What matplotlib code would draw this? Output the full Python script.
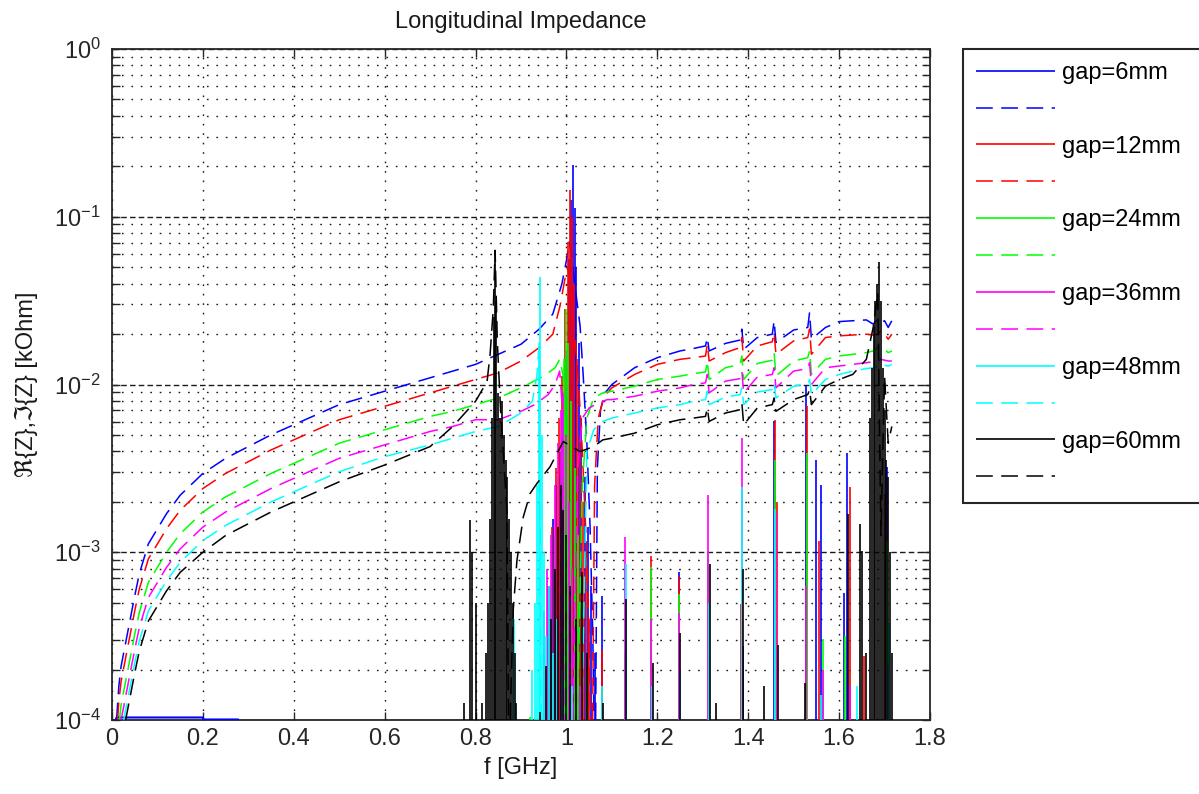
import numpy as np
import matplotlib
matplotlib.use('Agg')
import matplotlib.pyplot as plt
from matplotlib.ticker import FixedLocator, FixedFormatter, NullFormatter

plt.rcParams['font.family'] = ['Liberation Sans', 'DejaVu Sans']
plt.rcParams['axes.unicode_minus'] = False

# ---------------- data (log10 of |Z| in kOhm) ----------------
GAPS = [6, 12, 24, 36, 48, 60]
COLORS = ['#0000ff', '#ff0000', '#00ff00', '#ff00ff', '#00ffff', '#000000']
X_TICKS = [0, 0.2, 0.4, 0.6, 0.8, 1.0, 1.2, 1.4, 1.6, 1.8]
X_TICK_LABELS = ['0', '0.2', '0.4', '0.6', '0.8', '1', '1.2', '1.4', '1.6', '1.8']

# imaginary part, shared low-frequency grid
F_LOW = [0.005, 0.01, 0.015, 0.02, 0.03, 0.04, 0.05, 0.06, 0.08, 0.10, 0.12,
         0.15, 0.20, 0.25, 0.30, 0.35, 0.40, 0.50, 0.60, 0.70, 0.75, 0.80]
IM_LOW_6 = [-4.6, -4.00, -3.80, -3.68, -3.54, -3.40, -3.26, -3.13, -2.95, -2.86, -2.77,
            -2.66, -2.53, -2.44, -2.37, -2.30, -2.24, -2.12, -2.04, -1.96, -1.92, -1.88]
IM_LOW_12 = [-4.7, -4.09, -3.89, -3.77, -3.63, -3.49, -3.35, -3.22, -3.04, -2.95, -2.86,
             -2.75, -2.62, -2.53, -2.46, -2.39, -2.33, -2.21, -2.13, -2.05, -2.01, -1.97]
IM_LOW_24 = [-4.8, -4.23, -4.03, -3.91, -3.77, -3.63, -3.49, -3.36, -3.18, -3.09, -3.00,
             -2.89, -2.76, -2.67, -2.60, -2.53, -2.47, -2.35, -2.27, -2.19, -2.16, -2.12]
IM_LOW_36 = [-4.9, -4.32, -4.12, -4.00, -3.86, -3.72, -3.58, -3.45, -3.27, -3.18, -3.09,
             -2.98, -2.85, -2.76, -2.69, -2.62, -2.56, -2.44, -2.36, -2.28, -2.25, -2.21]
IM_LOW_48 = [-5.0, -4.40, -4.20, -4.08, -3.94, -3.80, -3.66, -3.53, -3.35, -3.26, -3.17,
             -3.06, -2.93, -2.84, -2.77, -2.70, -2.64, -2.52, -2.43, -2.36, -2.32, -2.28]
IM_LOW_60 = [-5.1, -4.46, -4.26, -4.14, -4.00, -3.86, -3.72, -3.59, -3.41, -3.32, -3.23,
             -3.12, -3.00, -2.90, -2.83, -2.76, -2.70, -2.58, -2.48, -2.37, -2.25, -2.10]

# imaginary part around the main resonance
IM_MID_F_6 = [0.85, 0.90, 0.94, 0.97, 0.99, 1.0, 1.006, 1.012, 1.02, 1.03, 1.037, 1.045,
              1.052, 1.058, 1.063, 1.068, 1.075, 1.085]
IM_MID_V_6 = [-1.82, -1.76, -1.67, -1.58, -1.40, -1.26, -1.15, -1.25, -1.44, -1.65, -1.95,
              -2.35, -2.85, -3.5, -4.5, -2.5, -2.15, -2.05]
IM_MID_F_12 = [0.85, 0.90, 0.94, 0.97, 0.986, 0.996, 1.003, 1.01, 1.018, 1.027, 1.035,
               1.043, 1.05, 1.056, 1.062, 1.07, 1.08, 1.09]
IM_MID_V_12 = [-1.93, -1.86, -1.78, -1.70, -1.53, -1.38, -1.30, -1.45, -1.70, -2.0, -2.4,
               -2.9, -3.5, -4.5, -2.6, -2.2, -2.1, -2.05]
IM_MID_F_24 = [0.85, 0.90, 0.95, 0.975, 0.985, 0.993, 1.0, 1.006, 1.02, 1.035, 1.045,
               1.06, 1.08]
IM_MID_V_24 = [-2.08, -2.02, -1.95, -1.90, -1.85, -1.95, -2.6, -4.5, -4.5, -2.6, -2.2,
               -2.08, -2.05]
IM_MID_F_36 = [0.85, 0.90, 0.93, 0.96, 0.975, 0.985, 0.99, 0.996, 1.01, 1.025, 1.035,
               1.05, 1.07, 1.09]
IM_MID_V_36 = [-2.21, -2.16, -2.12, -2.06, -2.0, -1.92, -2.1, -4.5, -4.5, -2.5, -2.2,
               -2.14, -2.11, -2.09]
IM_MID_F_48 = [0.85, 0.90, 0.925, 0.935, 0.94, 0.945, 0.95, 1.03, 1.045, 1.06, 1.08]
IM_MID_V_48 = [-2.25, -2.17, -2.10, -1.95, -1.75, -4.5, -4.5, -4.5, -2.4, -2.27, -2.22]
IM_MID_F_60 = [0.815, 0.825, 0.832, 0.839, 0.843, 0.848, 0.855, 0.862, 0.869, 0.874,
               0.877, 0.883, 0.891, 0.905, 0.92, 0.935, 0.964, 0.993, 1.03, 1.06, 1.08]
IM_MID_V_60 = [-2.03, -1.99, -1.82, -1.55, -1.20, -1.75, -2.15, -2.45, -2.75, -4.5,
               -3.9, -3.34, -3.05, -2.79, -2.65, -2.59, -2.49, -2.34, -2.40, -2.37, -2.33]

# imaginary part, shared high-frequency grid
F_HIGH = [1.10, 1.15, 1.20, 1.25, 1.28, 1.306, 1.31, 1.314, 1.35, 1.382, 1.386, 1.39,
          1.42, 1.453, 1.457, 1.461, 1.50, 1.531, 1.535, 1.539, 1.57, 1.60, 1.63, 1.66,
          1.675, 1.685, 1.692, 1.70, 1.708, 1.716]
IM_HIGH_6 = [-2.00, -1.90, -1.84, -1.80, -1.785, -1.77, -1.72, -1.80, -1.755, -1.735,
             -1.67, -1.79, -1.72, -1.70, -1.62, -1.75, -1.675, -1.66, -1.57, -1.73,
             -1.66, -1.625, -1.62, -1.615, -1.64, -1.61, -1.63, -1.62, -1.66, -1.62]
IM_HIGH_12 = [-2.02, -1.94, -1.88, -1.85, -1.84, -1.83, -1.76, -1.86, -1.81, -1.78,
              -1.72, -1.86, -1.77, -1.745, -1.69, -1.82, -1.74, -1.72, -1.67, -1.82,
              -1.72, -1.71, -1.705, -1.70, -1.705, -1.70, -1.68, -1.70, -1.73, -1.70]
IM_HIGH_24 = [-2.04, -2.01, -1.97, -1.95, -1.935, -1.925, -1.86, -1.97, -1.90, -1.88,
              -1.83, -1.97, -1.875, -1.855, -1.81, -1.95, -1.86, -1.84, -1.80, -1.94,
              -1.85, -1.83, -1.82, -1.81, -1.80, -1.78, -1.77, -1.79, -1.81, -1.80]
IM_HIGH_36 = [-2.09, -2.07, -2.04, -2.02, -2.0, -1.99, -1.94, -2.05, -1.98, -1.965,
              -1.92, -2.05, -1.955, -1.94, -1.90, -2.02, -1.92, -1.905, -1.87, -2.0,
              -1.90, -1.89, -1.88, -1.87, -1.865, -1.86, -1.85, -1.855, -1.86, -1.86]
IM_HIGH_48 = [-2.20, -2.17, -2.14, -2.12, -2.10, -2.09, -2.04, -2.12, -2.075, -2.06,
              -2.02, -2.12, -2.045, -2.03, -1.99, -2.08, -2.01, -1.995, -1.97, -2.06,
              -1.97, -1.94, -1.92, -1.905, -1.90, -1.89, -1.88, -1.885, -1.89, -1.88]
IM_HIGH_60 = [-2.32, -2.29, -2.24, -2.21, -2.20, -2.19, -2.14, -2.22, -2.17, -2.15,
              -2.11, -2.24, -2.14, -2.12, -2.08, -2.16, -2.09, -2.06, -2.03, -2.12,
              -2.01, -1.97, -1.94, -1.85, -1.66, -1.45, -2.9, -1.95, -2.35, -2.25]

# real part: resonance spikes (frequency, log10 peak)
RE_F_6 = [0.955, 0.962, 0.97, 0.978, 0.985, 0.992, 1.0, 1.006, 1.011, 1.014, 1.018, 1.022,
          1.027, 1.033, 1.04, 1.047, 1.054, 1.062, 1.078, 1.247, 1.388, 1.456, 1.46, 1.527,
          1.55, 1.56, 1.61, 1.617, 1.70, 1.705]
RE_V_6 = [-3.8, -3.2, -2.8, -2.6, -2.4, -2.15, -1.8, -1.25, -0.9, -0.69, -0.95, -1.3,
          -1.75, -2.2, -2.55, -2.85, -3.2, -3.6, -3.26, -3.12, -3.56, -2.22, -2.6, -2.01,
          -2.45, -2.6, -3.24, -2.41, -3.0, -2.49]
RE_F_12 = [0.95, 0.96, 0.968, 0.976, 0.984, 0.99, 0.997, 1.003, 1.008, 1.012, 1.017, 1.023,
           1.03, 1.036, 1.043, 1.05, 1.078, 1.185, 1.247, 1.313, 1.385, 1.459, 1.463,
           1.53, 1.555, 1.624, 1.655, 1.70]
RE_V_12 = [-3.6, -3.2, -2.85, -2.5, -2.2, -1.95, -1.55, -1.15, -0.84, -1.0, -1.4, -1.85,
           -2.3, -2.7, -3.0, -3.4, -3.58, -3.02, -3.15, -3.62, -3.31, -2.21, -2.7, -2.13,
           -2.93, -2.61, -3.62, -2.65]
RE_F_24 = [0.92, 0.958, 0.966, 0.974, 0.982, 0.99, 0.995, 1.0, 1.004, 1.01, 1.018, 1.026,
           1.035, 1.045, 1.128, 1.185, 1.247, 1.311, 1.386, 1.46, 1.53, 1.565, 1.612, 1.705]
RE_V_24 = [-3.98, -3.5, -3.2, -2.9, -2.55, -2.15, -1.85, -1.55, -1.75, -2.1, -2.5, -2.9,
           -3.3, -3.7, -3.6, -3.09, -3.25, -2.99, -3.4, -2.45, -2.41, -3.52, -3.5, -2.93]
RE_F_36 = [0.95, 0.958, 0.966, 0.974, 0.982, 0.988, 0.993, 0.998, 1.005, 1.013, 1.022,
           1.03, 1.128, 1.185, 1.247, 1.312, 1.386, 1.461, 1.527, 1.565, 1.624, 1.707]
RE_V_36 = [-3.35, -3.1, -2.9, -2.6, -2.35, -2.15, -2.05, -2.3, -2.7, -3.1, -3.45, -3.8,
           -2.91, -3.4, -3.36, -2.66, -2.32, -2.77, -3.2, -3.7, -3.8, -3.68]
RE_F_48 = [0.884, 0.925, 0.93, 0.935, 0.939, 0.942, 0.946, 0.95, 0.956, 0.962, 0.97, 0.98,
           0.99, 1.0, 1.012, 1.078, 1.13, 1.188, 1.25, 1.314, 1.387, 1.46, 1.56, 1.64, 1.71]
RE_V_48 = [-3.4, -3.7, -3.3, -2.6, -1.8, -1.36, -2.3, -3.0, -3.5, -3.2, -3.6, -3.4, -3.7,
           -3.5, -3.8, -3.8, -3.07, -3.8, -3.7, -3.3, -2.61, -2.74, -3.85, -3.8, -3.42]
RE_F_60 = [0.775, 0.788, 0.793, 0.80, 0.815, 0.822, 0.828, 0.832, 0.836, 0.84, 0.843, 0.846,
           0.85, 0.854, 0.858, 0.862, 0.866, 0.87, 0.874, 0.878, 0.882, 0.886, 0.89, 0.942,
           0.955, 0.965, 0.975, 0.982, 0.988, 0.993, 1.0, 1.008, 1.02, 1.034, 1.045, 1.08,
           1.13, 1.19, 1.25, 1.315, 1.33, 1.388, 1.435, 1.465, 1.525, 1.62, 1.646, 1.65,
           1.66, 1.668, 1.672, 1.676, 1.68, 1.684, 1.688, 1.692, 1.696, 1.70, 1.704, 1.708,
           1.712, 1.716]
RE_V_60 = [-3.9, -2.81, -3.0, -3.3, -3.9, -3.6, -3.3, -2.8, -2.2, -1.6, -1.2, -1.5, -2.05,
           -2.2, -2.1, -2.3, -2.45, -2.55, -2.8, -3.0, -3.3, -3.6, -3.9, -3.95, -3.68, -3.4,
           -3.1, -2.85, -2.6, -2.75, -2.9, -3.2, -3.4, -3.12, -3.6, -3.9, -3.28, -3.66,
           -3.48, -3.07, -3.9, -3.1, -3.8, -3.55, -3.78, -2.77, -2.83, -2.99, -3.6, -2.2,
           -1.9, -1.66, -1.5, -1.4, -1.27, -1.5, -1.9, -2.15, -2.45, -2.55, -3.0, -3.6]

# real part of gap=6mm at low frequency (flat line near the bottom)
RE_LOW_F_6 = [0.002, 0.01, 0.2, 0.201, 0.277]
RE_LOW_V_6 = [-4.05, -3.985, -3.985, -3.997, -3.997]

IM_LOW = [IM_LOW_6, IM_LOW_12, IM_LOW_24, IM_LOW_36, IM_LOW_48, IM_LOW_60]
IM_MID_F = [IM_MID_F_6, IM_MID_F_12, IM_MID_F_24, IM_MID_F_36, IM_MID_F_48, IM_MID_F_60]
IM_MID_V = [IM_MID_V_6, IM_MID_V_12, IM_MID_V_24, IM_MID_V_36, IM_MID_V_48, IM_MID_V_60]
IM_HIGH = [IM_HIGH_6, IM_HIGH_12, IM_HIGH_24, IM_HIGH_36, IM_HIGH_48, IM_HIGH_60]
RE_F = [RE_F_6, RE_F_12, RE_F_24, RE_F_36, RE_F_48, RE_F_60]
RE_V = [RE_V_6, RE_V_12, RE_V_24, RE_V_36, RE_V_48, RE_V_60]

# ---------------- figure ----------------
W, H = 1199, 794
fig = plt.figure(figsize=(W / 100, H / 100), dpi=100)
ax = fig.add_axes([112 / W, 1 - 720 / H, (930 - 112) / W, (720 - 49) / H])
ax.set_yscale('log')
FLOOR = 1e-5

handles, labels = [], []
for i, g in enumerate(GAPS):
    col = COLORS[i]
    lc = ax.vlines(RE_F[i], FLOOR, 10 ** np.array(RE_V[i]), colors=col, linewidth=1.2,
                   zorder=3 + 2 * i)
    if i == 0:
        ax.plot(RE_LOW_F_6, 10 ** np.array(RE_LOW_V_6), color=col, lw=1.5, zorder=3)
    f_im = F_LOW + IM_MID_F[i] + F_HIGH
    v_im = IM_LOW[i] + IM_MID_V[i] + IM_HIGH[i]
    ln, = ax.plot(f_im, 10 ** np.array(v_im), color=col, lw=1.1,
                  linestyle=(0, (11, 5.5)), zorder=4 + 2 * i)
    handles += [lc, ln]
    labels += ['gap=%dmm' % g, ' ']

ax.set_xlim(0, 1.8)
ax.set_ylim(1e-4, 1)
ax.xaxis.set_major_locator(FixedLocator(X_TICKS))
ax.xaxis.set_major_formatter(FixedFormatter(X_TICK_LABELS))
ax.yaxis.set_minor_formatter(NullFormatter())

dot = (0, (1.2, 5.6))
ax.grid(True, which='major', axis='x', color='0.1', linestyle=dot, linewidth=1.0)
ax.grid(True, which='major', axis='y', color='0.1', linestyle=(0, (4, 2.3)), linewidth=1.0)
ax.grid(True, which='minor', axis='y', color='0.1', linestyle=dot, linewidth=1.0)
ax.set_axisbelow(True)

ax.tick_params(which='both', direction='in', top=True, right=True, length=6, width=1.0,
               labelsize=17, colors='0.15')
ax.tick_params(axis='x', pad=6)
ax.tick_params(axis='y', pad=8)
for s in ax.spines.values():
    s.set_linewidth(1.3)
    s.set_color('0.15')

ax.set_title('Longitudinal Impedance', fontsize=17, pad=15, color='0.1')
ax.set_xlabel('f [GHz]', fontsize=17, labelpad=5, color='0.1')
ax.set_ylabel('ℜ{Z},ℑ{Z} [kOhm]', fontsize=17, color='0.1')
ax.yaxis.set_label_coords(-0.0905, 0.5)

leg = fig.legend(handles, labels, loc='upper left',
                 bbox_to_anchor=(963 / W, 1 - 500 / H, 0.215, (500 - 49) / H), mode='expand',
                 borderaxespad=0, fontsize=17, labelspacing=0.63, borderpad=0.55,
                 handlelength=3.35, handletextpad=0.3, fancybox=False, framealpha=1,
                 edgecolor='0.15')
leg.get_frame().set_linewidth(1.5)

fig.savefig('out.png', dpi=100)
